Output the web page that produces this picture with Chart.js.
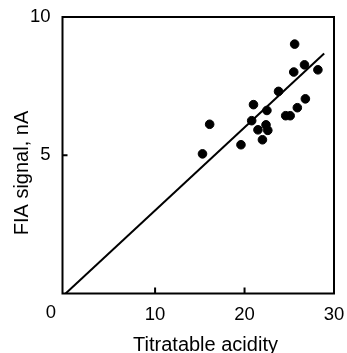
<!DOCTYPE html>
<html><head><meta charset="utf-8">
<script src="https://cdn.jsdelivr.net/npm/chart.js@4/dist/chart.umd.min.js"></script>
<style>html,body{margin:0;padding:0;background:#fff}#wrap{width:347px;height:353px}</style>
</head><body><div id="wrap"><canvas id="c" width="347" height="353"></canvas></div>
<script>
const acidity = [15.3,16.1,19.6,20.8,21.0,21.5,22.0,22.4,22.5,22.6,23.8,24.6,25.1,25.5,25.6,25.9,26.7,26.8,28.2];
const signal  = [5.05,6.12,5.38,6.25,6.83,5.92,5.56,6.10,6.62,5.90,7.31,6.43,6.43,8.01,9.02,6.72,8.27,7.04,8.09];
const fitX = [0, 28.9];
const fitY = [0, 8.68];
const xTicks = [0,10,20,30];
const yTicks = [5,10];
const xTitle = 'Titratable acidity';
const yTitle = 'FIA signal, nA';

const FONT = '"Liberation Sans", Arial, Helvetica, sans-serif';
const TICK_SIZE = 18.5;
const TITLE_SIZE = 20;

const frame = {
  id:'frame',
  afterDraw(chart){
    const {ctx, chartArea:a, scales:{x,y}} = chart;
    ctx.save();
    ctx.strokeStyle='#000'; ctx.lineWidth=2;
    ctx.strokeRect(a.left, a.top, a.right-a.left, a.bottom-a.top);
    ctx.beginPath();
    xTicks.forEach(v=>{ if(v>0 && v<30){ const px=x.getPixelForValue(v); ctx.moveTo(px,a.bottom); ctx.lineTo(px,a.bottom-6);} });
    yTicks.forEach(v=>{ if(v>0 && v<10){ const py=y.getPixelForValue(v); ctx.moveTo(a.left,py); ctx.lineTo(a.left+5,py);} });
    ctx.stroke();
    ctx.fillStyle='#000';
    // origin label shared by both axes
    ctx.font=TICK_SIZE+'px '+FONT; ctx.textAlign='center'; ctx.textBaseline='middle';
    ctx.fillText(String(xTicks[0]), 51, 313);
    // axis titles
    ctx.font=TITLE_SIZE+'px '+FONT;
    ctx.textBaseline='alphabetic';
    ctx.fillText(xTitle, 205.5, 351);
    ctx.translate(27.5, 173);
    ctx.rotate(-Math.PI/2);
    ctx.fillText(yTitle, 0, 0);
    ctx.restore();
  }
};

new Chart(document.getElementById('c'), {
  type:'scatter',
  data:{datasets:[
    {type:'line', data: fitX.map((v,i)=>({x:v,y:fitY[i]})), borderColor:'#000', borderWidth:2, pointRadius:0, fill:false},
    {data: acidity.map((v,i)=>({x:v,y:signal[i]})), backgroundColor:'#000', borderColor:'#000', pointRadius:4.3, pointHoverRadius:4.3}
  ]},
  options:{
    responsive:false, animation:false, devicePixelRatio:1,
    layout:{padding:{left:0,right:13,top:17,bottom:0}},
    plugins:{legend:{display:false}, tooltip:{enabled:false}},
    scales:{
      x:{type:'linear', min:-0.35, max:30, afterBuildTicks(s){ s.ticks = xTicks.map(v=>({value:v})); },
        afterFit(s){ s.height=59.5; s.paddingLeft=0; s.paddingRight=0; },
        grid:{display:false, drawTicks:false}, border:{display:false},
        ticks:{color:'#000', font:{family:FONT, size:TICK_SIZE}, padding:10, maxRotation:0,
          callback:(v)=> v===0 ? '' : String(v)}
      },
      y:{type:'linear', min:0, max:10, afterBuildTicks(s){ s.ticks = yTicks.map(v=>({value:v})); },
        afterFit(s){ s.width=62.5; s.paddingTop=0; s.paddingBottom=0; },
        grid:{display:false, drawTicks:false}, border:{display:false},
        ticks:{color:'#000', font:{family:FONT, size:TICK_SIZE}, padding:12}
      }
    }
  },
  plugins:[frame]
});
</script></body></html>
